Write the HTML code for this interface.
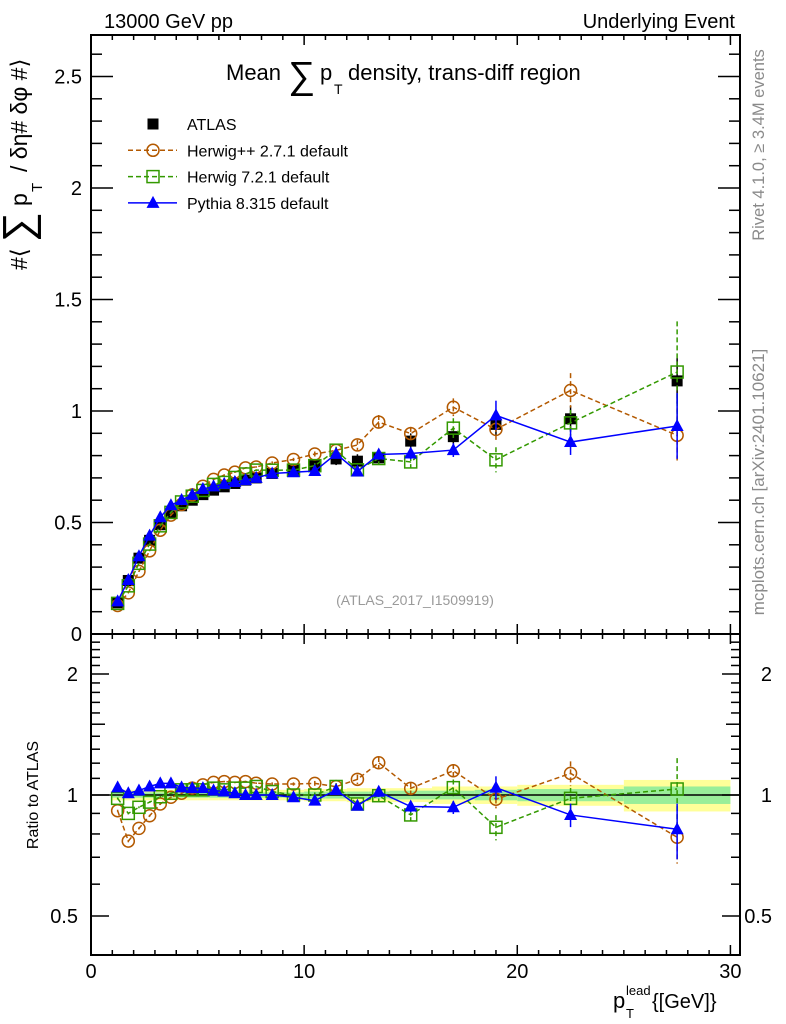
<!DOCTYPE html>
<html><head><meta charset="utf-8">
<style>
html,body{margin:0;padding:0;background:#fff;}
svg{display:block;font-family:"Liberation Sans",Arial,sans-serif;}
</style></head>
<body>
<svg id="c" width="786" height="1024" viewBox="0 0 786 1024" xmlns="http://www.w3.org/2000/svg">
  <text x="104" y="28" font-size="20">13000 GeV pp</text>
  <text x="735" y="28" font-size="20" text-anchor="end">Underlying Event</text>
  <text transform="translate(764,145) rotate(-90)" font-size="16.5" fill="#8a8a8a" text-anchor="middle">Rivet 4.1.0, ≥ 3.4M events</text>
  <text transform="translate(764,482) rotate(-90)" font-size="17" fill="#8a8a8a" text-anchor="middle">mcplots.cern.ch [arXiv:2401.10621]</text>
  <g>
    <text x="226" y="80" font-size="22">Mean</text>
    <text x="288" y="88" font-size="38">∑</text>
    <text x="320" y="80" font-size="22">p</text>
    <text x="334" y="94" font-size="14">T</text>
    <text x="348" y="80" font-size="22">density, trans-diff region</text>
  </g>
  <g transform="translate(27,270) rotate(-90)">
    <text x="0" y="0" font-size="23">#⟨</text>
    <text x="28" y="5" font-size="42">∑</text>
    <text x="64" y="0" font-size="23">p</text>
    <text x="78" y="15" font-size="15">T</text>
    <text x="98" y="0" font-size="23">/ δη# δφ #⟩</text>
  </g>
  <text transform="translate(38,795) rotate(-90)" font-size="16" text-anchor="middle">Ratio to ATLAS</text>
  <g>
    <text x="613" y="1008" font-size="22">p</text>
    <text x="626" y="1018" font-size="13">T</text>
    <text x="626" y="995" font-size="13">lead</text>
    <text x="652" y="1008" font-size="20">{[GeV]}</text>
  </g>
  <text x="415" y="605" font-size="14" fill="#9a9a9a" text-anchor="middle">(ATLAS_2017_I1509919)</text>
  <g id="legend"></g>
  <g id="plot"></g>
</svg>
<script>
// ---- data ----
const ptBins = [1.25,1.75,2.25,2.75,3.25,3.75,4.25,4.75,5.25,5.75,6.25,6.75,7.25,7.75,8.5,9.5,10.5,11.5,12.5,13.5,15,17,19,22.5,27.5];
const binLo  = [1,1.5,2,2.5,3,3.5,4,4.5,5,5.5,6,6.5,7,7.5,8,9,10,11,12,13,14,16,18,20,25];
const binHi  = [1.5,2,2.5,3,3.5,4,4.5,5,5.5,6,6.5,7,7.5,8,9,10,11,12,13,14,16,18,20,25,30];
const atlasVals = [0.14,0.24,0.34,0.42,0.49,0.54,0.575,0.60,0.625,0.645,0.66,0.675,0.69,0.70,0.72,0.735,0.755,0.785,0.775,0.79,0.865,0.885,0.94,0.965,1.135];
const atlasRelTot  = [0.03,0.03,0.03,0.03,0.03,0.03,0.03,0.03,0.03,0.03,0.03,0.03,0.03,0.03,0.03,0.03,0.035,0.035,0.04,0.04,0.04,0.05,0.05,0.06,0.09];
const atlasRelStat = [0.015,0.015,0.015,0.015,0.015,0.015,0.015,0.015,0.015,0.015,0.015,0.015,0.015,0.015,0.015,0.015,0.02,0.02,0.02,0.02,0.025,0.025,0.03,0.035,0.05];
const herwigPPRatio = [0.914,0.768,0.826,0.888,0.95,0.987,1.01,1.04,1.06,1.075,1.08,1.075,1.08,1.07,1.065,1.065,1.069,1.049,1.094,1.203,1.039,1.149,0.976,1.132,0.785];
const herwigPPErr   = [0.005,0.005,0.005,0.005,0.005,0.005,0.005,0.005,0.005,0.005,0.005,0.005,0.005,0.005,0.01,0.01,0.015,0.02,0.03,0.04,0.035,0.045,0.05,0.08,0.11];
const herwig7Ratio  = [0.981,0.90,0.932,0.96,0.99,1.01,1.03,1.03,1.03,1.04,1.03,1.04,1.04,1.05,1.02,1.0,1.0,1.05,0.95,0.996,0.892,1.043,0.831,0.981,1.035];
const herwig7Err    = [0.005,0.005,0.005,0.005,0.005,0.005,0.005,0.005,0.005,0.005,0.005,0.005,0.005,0.005,0.01,0.01,0.015,0.02,0.02,0.03,0.03,0.05,0.06,0.06,0.2];
const pythiaRatio   = [1.045,1.01,1.026,1.05,1.069,1.069,1.045,1.04,1.04,1.026,1.02,1.01,1.0,1.0,1.0,0.987,0.968,1.029,0.94,1.019,0.936,0.932,1.043,0.892,0.822];
const pythiaErr     = [0.005,0.005,0.005,0.005,0.005,0.005,0.005,0.005,0.005,0.005,0.005,0.005,0.005,0.005,0.01,0.01,0.015,0.02,0.02,0.03,0.03,0.035,0.07,0.06,0.13];
const xTicks = [0,10,20,30];
const yTicks = [0.5,1,1.5,2,2.5];
const rTicks = [0.5,1,2];

// ---- axes ----
const L=91,R=740,T=35,MB=634,RB=955;
const sx = v => L + v*(R-L)/30.45;
const sy = v => MB - v*223;
const sr = v => 795 - Math.log2(v)*121;
const NS="http://www.w3.org/2000/svg";
const plot=document.getElementById('plot');
function mk(tag,attrs,parent){const e=document.createElementNS(NS,tag);for(const k in attrs)e.setAttribute(k,attrs[k]);(parent||plot).appendChild(e);return e;}

// bands in ratio
const bands=mk('g',{});


ptBins.forEach((p,i)=>{
  const y1=sr(1+atlasRelTot[i]), y2=sr(1-atlasRelTot[i]);
  const b=mk('rect',{x:sx(binLo[i]),y:y1,width:sx(binHi[i])-sx(binLo[i]),height:y2-y1,fill:'#ffff99'},bands);
  
  
  const s1=sr(1+atlasRelStat[i]), s2=sr(1-atlasRelStat[i]);
  const g=mk('rect',{x:sx(binLo[i]),y:s1,width:sx(binHi[i])-sx(binLo[i]),height:s2-s1,fill:'#99ee99'},bands);
  
  
});
const one=mk('line',{x1:L,x2:R,y1:sr(1),y2:sr(1),stroke:'#000','stroke-width':1.5});



// frames
const f1=mk('rect',{x:L,y:T,width:R-L,height:MB-T,fill:'none',stroke:'#000','stroke-width':2});


const f2=mk('rect',{x:L,y:MB,width:R-L,height:RB-MB,fill:'none',stroke:'#000','stroke-width':2});



// ticks
const tk=mk('g',{stroke:'#000','stroke-width':1.5});


for(let v=0;v<=30;v++){
  const x=sx(v), len=(v%10===0)?10:5;
  [[MB,-1],[T,1],[RB,-1],[MB,1]].forEach(([y,d])=>mk('line',{x1:x,x2:x,y1:y,y2:y+d*len},tk));
}
for(let k=1;k<=26;k++){
  const v=k/10, y=sy(v), len=(k%5===0)?22:11;
  mk('line',{x1:L,x2:L+len,y1:y,y2:y},tk); mk('line',{x1:R,x2:R-len,y1:y,y2:y},tk);
}
for(let k=5;k<=24;k++){
  const v=k/10, y=sr(v), len=(k===5||k===10||k===20)?18:(k===15?14:9);
  mk('line',{x1:L,x2:L+len,y1:y,y2:y},tk); mk('line',{x1:R,x2:R-len,y1:y,y2:y},tk);
}
// tick labels
xTicks.forEach(v=>{const t=mk('text',{x:sx(v),y:978,'font-size':20,'text-anchor':'middle'});t.textContent=v;
  
  });
yTicks.forEach(v=>{const t=mk('text',{x:82,y:sy(v)+7,'font-size':20,'text-anchor':'end'});t.textContent=v;
  
  });
{const t=mk('text',{x:82,y:641,'font-size':20,'text-anchor':'end'});t.textContent='0';
  
  }
rTicks.forEach(v=>{
  const a=mk('text',{x:78,y:sr(v)+7,'font-size':20,'text-anchor':'end'});a.textContent=v;
  
  
  const b=mk('text',{x:772,y:sr(v)+7,'font-size':20,'text-anchor':'end'});b.textContent=v;
  
  
});

// markers
function marker(kind,x,y,color,g){
  if(kind==='circle') return mk('circle',{cx:x,cy:y,r:6,fill:'none',stroke:color,'stroke-width':1.5},g);
  if(kind==='open-square') return mk('rect',{x:x-6,y:y-6,width:12,height:12,fill:'none',stroke:color,'stroke-width':1.5},g);
  if(kind==='square') return mk('rect',{x:x-5.5,y:y-5.5,width:11,height:11,fill:color},g);
  return mk('polygon',{points:`${x},${y-7} ${x-6.5},${y+5} ${x+6.5},${y+5}`,fill:color},g);
}
function series(name,ratio,err,color,kind,dash){
  const g=mk('g',{});
  
  
  const pts=ptBins.map((p,i)=>[sx(p),sy(atlasVals[i]*ratio[i])]);
  mk('polyline',{points:pts.map(p=>p.join(',')).join(' '),fill:'none',stroke:color,'stroke-width':1.5,'stroke-dasharray':dash},g);
  ptBins.forEach((p,i)=>{
    const v=atlasVals[i]*ratio[i], e=atlasVals[i]*err[i];
    mk('line',{x1:sx(p),x2:sx(p),y1:sy(v+e),y2:sy(v-e),stroke:color,'stroke-width':1.5,'stroke-dasharray':dash},g);
    const m=marker(kind,sx(p),sy(v),color,g);
    
    
  });
  const h=mk('g',{});
  
  
  const rp=ptBins.map((p,i)=>[sx(p),sr(ratio[i])]);
  mk('polyline',{points:rp.map(p=>p.join(',')).join(' '),fill:'none',stroke:color,'stroke-width':1.5,'stroke-dasharray':dash},h);
  ptBins.forEach((p,i)=>{
    mk('line',{x1:sx(p),x2:sx(p),y1:sr(ratio[i]+err[i]),y2:sr(Math.max(0.3,ratio[i]-err[i])),stroke:color,'stroke-width':1.5,'stroke-dasharray':dash},h);
    const m=marker(kind,sx(p),sr(ratio[i]),color,h);
    
    
  });
}
// ATLAS main
const ag=mk('g',{});


ptBins.forEach((p,i)=>{
  const v=atlasVals[i], e=v*atlasRelTot[i];
  mk('line',{x1:sx(p),x2:sx(p),y1:sy(v+e),y2:sy(v-e),stroke:'#000','stroke-width':1.5},ag);
  const m=marker('square',sx(p),sy(v),'#000',ag);
  
  
});
series('herwigpp',herwigPPRatio,herwigPPErr,'#b35900','circle','5,3');
series('herwig7',herwig7Ratio,herwig7Err,'#339900','open-square','5,3');
series('pythia8',pythiaRatio,pythiaErr,'#0000ff','triangle','');

// legend
const lg=document.getElementById('legend');
const entries=[['ATLAS','#000','square',null],['Herwig++ 2.7.1 default','#b35900','circle','5,3'],['Herwig 7.2.1 default','#339900','open-square','5,3'],['Pythia 8.315 default','#0000ff','triangle','']];
entries.forEach((e,i)=>{
  const y=124+i*26.3;
  const g=mk('g',{},lg);
  
  
  if(e[3]!==null) mk('line',{x1:128,x2:177,y1:y,y2:y,stroke:e[1],'stroke-width':1.5,'stroke-dasharray':e[3]},g);
  marker(e[2],153,y,e[1],g);
  const t=mk('text',{x:187,y:y+6,'font-size':16},g); t.textContent=e[0];
});
</script>
</body></html>
